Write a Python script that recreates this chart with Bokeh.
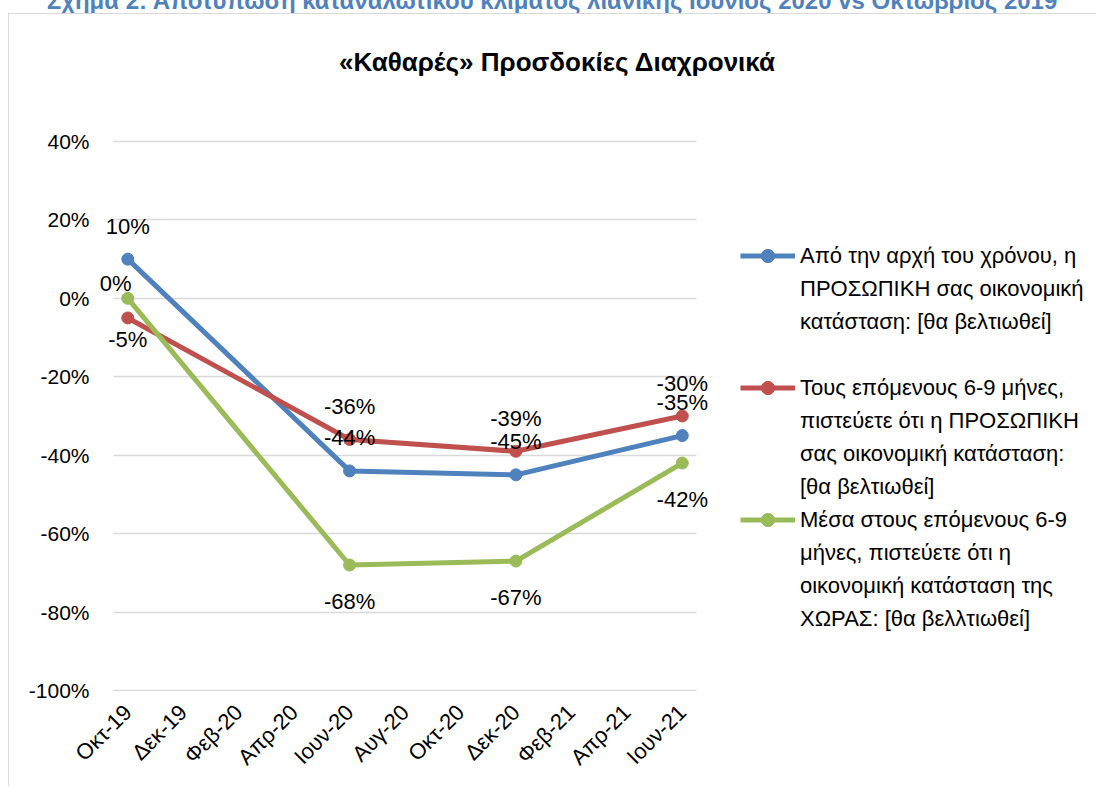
import math
from bokeh.plotting import figure
from bokeh.models import (Legend, LegendItem, FixedTicker, PrintfTickFormatter,
                          ColumnDataSource, Div, Range1d, Label)
from bokeh.layouts import column
from bokeh.embed import file_html
from bokeh.resources import INLINE
from bokeh.core.properties import value

# ---------------- data ----------------
categories = ["Οκτ-19", "Δεκ-19", "Φεβ-20", "Απρ-20", "Ιουν-20", "Αυγ-20",
              "Οκτ-20", "Δεκ-20", "Φεβ-21", "Απρ-21", "Ιουν-21"]
survey_months = ["Οκτ-19", "Ιουν-20", "Δεκ-20", "Ιουν-21"]
personal_since_start = [10, -44, -45, -35]
personal_next_6_9 = [-5, -36, -39, -30]
country_next_6_9 = [0, -68, -67, -42]
y_ticks = [-100, -80, -60, -40, -20, 0, 20, 40]

series_names = [
    ["Από την αρχή του χρόνου, η", "ΠΡΟΣΩΠΙΚΗ σας οικονομική", "κατάσταση: [θα βελτιωθεί]"],
    ["Τους επόμενους 6-9 μήνες,", "πιστεύετε ότι η ΠΡΟΣΩΠΙΚΗ", "σας οικονομική κατάσταση:", "[θα βελτιωθεί]"],
    ["Μέσα στους επόμενους 6-9", "μήνες, πιστεύετε ότι η", "οικονομική κατάσταση της", "ΧΩΡΑΣ: [θα βελλτιωθεί]"],
]
colors = ["#4f81bd", "#c0504d", "#9bbb59"]

# label placement (pixels) per point
label_dx = [[0, 0, 0, 0], [0, 0, 0, 0], [-12, 0, 0, 0]]
label_dy = [[-33, -33, -33, -33], [22, -33, -33, -33], [-15, 36, 36, 36]]

FONT = "Liberation Sans"

W, H = 1088, 773
MB_L, MB_B = 85, 96
FRAME_W, FRAME_H = W - MB_L, H - MB_B
PX_X = 55.45          # pixels per category step
PX_Y = 549 / 140      # pixels per percentage point
x0 = -0.6
y0 = -100 - 1 / PX_Y  # 1px below the lowest gridline so it is drawn
p = figure(width=W, height=H,
           x_range=Range1d(x0, x0 + FRAME_W / PX_X),
           y_range=Range1d(y0, y0 + FRAME_H / PX_Y),
           output_backend="svg", toolbar_location=None, title_location=None,
           min_border_left=MB_L, min_border_right=0, min_border_top=0, min_border_bottom=MB_B,
           margin=(0, 0, 0, 8),
           styles={"border-left": "1px solid #d9d9d9", "border-top": "1px solid #d9d9d9"})
p.outline_line_color = None
p.background_fill_color = "white"
p.border_fill_color = "white"

xs = [categories.index(m) for m in survey_months]
renderers = []
for vals, col, dx, dy in zip([personal_since_start, personal_next_6_9, country_next_6_9],
                             colors, label_dx, label_dy):
    src = ColumnDataSource(dict(x=xs, y=vals, lab=[f"{v}%" for v in vals], dx=dx, dy=dy))
    lr = p.line("x", "y", source=src, line_color=col, line_width=5)
    sr = p.scatter("x", "y", source=src, size=12, fill_color=col, line_color=col)
    renderers.append((lr, sr, src))

for lr, sr, src in renderers:
    p.text("x", "y", text="lab", source=src, x_offset="dx", y_offset="dy",
           text_align="center", text_baseline="middle", text_font=value(FONT),
           text_font_size="22px", text_color="#000000")

# axes
p.yaxis.ticker = FixedTicker(ticks=y_ticks)
p.yaxis.formatter = PrintfTickFormatter(format="%d%%")
p.yaxis.axis_line_color = None
p.yaxis.major_tick_line_color = None
p.yaxis.minor_tick_line_color = None
p.yaxis.major_tick_out = 0
p.yaxis.major_label_standoff = 5
p.yaxis.major_label_text_font = FONT
p.yaxis.major_label_text_font_size = "21px"
p.yaxis.major_label_text_color = "#000000"

p.xaxis.ticker = FixedTicker(ticks=list(range(len(categories))))
p.xaxis.major_label_overrides = {i: c for i, c in enumerate(categories)}
p.xaxis.major_label_orientation = math.pi / 4
p.xaxis.axis_line_color = None
p.xaxis.major_tick_line_color = None
p.xaxis.minor_tick_line_color = None
p.xaxis.major_tick_out = 0
p.xaxis.major_label_standoff = 17
p.xaxis.major_label_text_font = FONT
p.xaxis.major_label_text_font_size = "22px"
p.xaxis.major_label_text_color = "#000000"

p.xgrid.grid_line_color = None
p.ygrid.grid_line_color = "#d9d9d9"
p.ygrid.grid_line_width = 1.5
p.ygrid.cross_bounds = (-0.25, 10.25)

# chart title (inside the extended frame, screen units from frame bottom-left)
p.add_layout(Label(x=463, y=FRAME_H - 47, x_units="screen", y_units="screen",
                   text="«Καθαρές» Προσδοκίες Διαχρονικά", text_align="center",
                   text_baseline="alphabetic", text_font=FONT, text_font_size="26px",
                   text_font_style="bold", text_color="#000000"))

# legend
blank = p.line(x=[], y=[], line_alpha=0)
items = []
for k, (names, (lr, sr, _)) in enumerate(zip(series_names, renderers)):
    items.append(LegendItem(label=names[0], renderers=[lr, sr]))
    for extra in names[1:]:
        items.append(LegendItem(label=extra, renderers=[blank]))
    if k == 0:
        items.append(LegendItem(label=" ", renderers=[blank]))

legend = Legend(items=items, location=(646, 56), padding=0, margin=0, spacing=0,
                label_height=33, glyph_height=33, glyph_width=55, label_standoff=5,
                border_line_color=None, background_fill_alpha=0,
                label_text_font=FONT, label_text_font_size="22px", label_text_color="#000000")
p.add_layout(legend)

top = Div(text="Σχήμα 2: Αποτύπωση καταναλωτικού κλίματος λιανικής Ιούνιος 2020 vs Οκτώβριος 2019",
          width=1090, height=24, margin=(-11, 0, 0, 7),
          styles={"color": "#4f81bd", "font-weight": "bold", "font-size": "24px",
                  "font-family": FONT, "text-align": "center", "line-height": "24px",
                  "white-space": "nowrap"})

layout = column(top, p)
open("out.html", "w").write(file_html(layout, INLINE))
